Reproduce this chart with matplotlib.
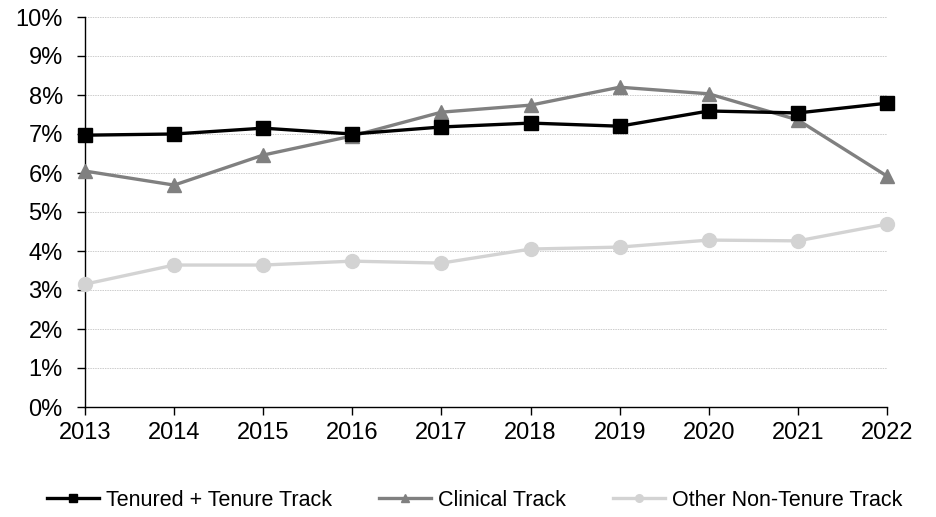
import numpy as np
import matplotlib.pyplot as plt
from matplotlib.ticker import FuncFormatter

plt.rcParams['font.family'] = ['Liberation Sans', 'DejaVu Sans']

years = [2013, 2014, 2015, 2016, 2017, 2018, 2019, 2020, 2021, 2022]
tenured = [6.97, 7.00, 7.15, 7.00, 7.18, 7.28, 7.20, 7.59, 7.54, 7.79]
clinical = [6.05, 5.69, 6.46, 6.95, 7.56, 7.74, 8.20, 8.03, 7.36, 5.92]
other_ntt = [3.15, 3.64, 3.64, 3.74, 3.69, 4.05, 4.10, 4.28, 4.26, 4.69]

fig = plt.figure(figsize=(9.36, 5.17), dpi=100)
ax = fig.add_axes([85 / 936, 1 - 407 / 517, (887 - 85) / 936, (407 - 17) / 517])

ax.plot(years, tenured, color='black', lw=2.4, marker='s', ms=10,
        clip_on=False, zorder=5, label='Tenured + Tenure Track')
ax.plot(years, clinical, color='#808080', lw=2.4, marker='^', ms=10,
        clip_on=False, zorder=4, label='Clinical Track')
ax.plot(years, other_ntt, color='#d3d3d3', lw=2.4, marker='o', ms=10,
        clip_on=False, zorder=3, label='Other Non-Tenure Track')

ax.set_xlim(2013, 2022)
ax.set_ylim(0, 10)
ax.set_xticks(years)
ax.set_yticks(np.arange(0, 11, 1))
ax.yaxis.set_major_formatter(FuncFormatter(lambda v, _: f'{v:.0f}%'))
ax.tick_params(axis='both', direction='out', length=6, width=1, labelsize=17,
               color='black')
ax.tick_params(axis='x', pad=5)
ax.tick_params(axis='y', pad=10)
ax.grid(axis='y', color='#cccccc', linestyle=(0, (1.5, 1)), lw=0.7)
ax.set_axisbelow(True)
for s in ['top', 'right']:
    ax.spines[s].set_visible(False)
for s in ['left', 'bottom']:
    ax.spines[s].set_linewidth(1)
    ax.spines[s].set_color('black')

handles, labels = ax.get_legend_handles_labels()
fig.legend(handles, labels, loc='center', bbox_to_anchor=(475 / 936, 1 - 500 / 517),
           ncol=3, frameon=False, fontsize=15.5, handlelength=2.4,
           handletextpad=0.33, columnspacing=2.2, markerscale=0.55,
           borderpad=0, borderaxespad=0)

fig.savefig('out.png', dpi=100)
